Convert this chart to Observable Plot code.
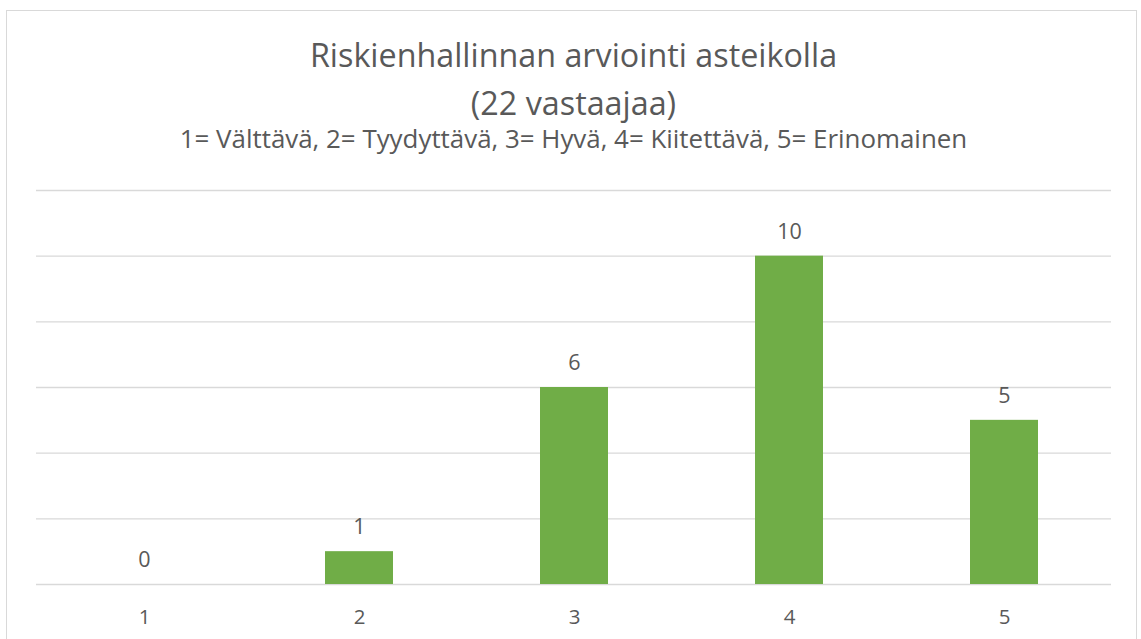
<!DOCTYPE html>
<html>
<head>
<meta charset="utf-8">
<script src="https://cdn.jsdelivr.net/npm/d3@7"></script>
<script src="https://cdn.jsdelivr.net/npm/@observablehq/plot@0.6"></script>
<style>
  html, body { margin: 0; padding: 0; background: #ffffff; }
  body { width: 1141px; height: 639px; overflow: hidden; position: relative; font-family: "Open Sans", "Noto Sans", sans-serif; color: #595959; }
  #frame { position: absolute; left: 6px; top: 10px; width: 1131px; height: 700px; border: 1.5px solid #D9D9D9; box-sizing: border-box; pointer-events: none; }
  #header { position: relative; width: 1141px; height: 170px; }
  .t { position: absolute; left: 0; width: 1147px; text-align: center; white-space: nowrap; line-height: 1; }
  #title1 { top: 38.3px; font-size: 32.3px; }
  #title2 { top: 86.3px; font-size: 32.3px; }
  #subtitle { top: 126px; font-size: 25.9px; }
  #chart svg { display: block; }
</style>
</head>
<body>
<div id="frame"></div>
<div id="header">
  <div class="t" id="title1">Riskienhallinnan arviointi asteikolla</div>
  <div class="t" id="title2">(22 vastaajaa)</div>
  <div class="t" id="subtitle">1= Välttävä, 2= Tyydyttävä, 3= Hyvä, 4= Kiitettävä, 5= Erinomainen</div>
</div>
<div id="chart"></div>
<script>
const categories = ["1", "2", "3", "4", "5"];
const counts = [0, 1, 6, 10, 5];
const gridTicks = [0, 2, 4, 6, 8, 10, 12];

const data = categories.map((c, i) => ({category: c, count: counts[i]}));

const chart = Plot.plot({
  width: 1141,
  height: 469,
  marginTop: 20,
  marginBottom: 55,
  marginLeft: 36,
  marginRight: 30,
  style: {fontFamily: "'Open Sans', 'Noto Sans', sans-serif", color: "#595959", background: "transparent", overflow: "visible"},
  x: {domain: categories, paddingInner: 0.684, paddingOuter: 0.342, label: null},
  y: {domain: [0, 12], axis: null},
  marks: [
    Plot.ruleY(gridTicks, {stroke: "#D9D9D9", strokeWidth: 1.3}),
    Plot.barY(data, {x: "category", y: "count", fill: "#70AD47"}),
    Plot.text(data, {x: "category", y: "count", text: d => String(d.count), fill: "#595959", fontSize: 21.5, lineAnchor: "middle", dy: -24.4}),
    Plot.axisX({tickSize: 0, tickPadding: 25, fontSize: 20.5, fill: "#595959", label: null})
  ]
});
document.getElementById("chart").appendChild(chart);
</script>
</body>
</html>
